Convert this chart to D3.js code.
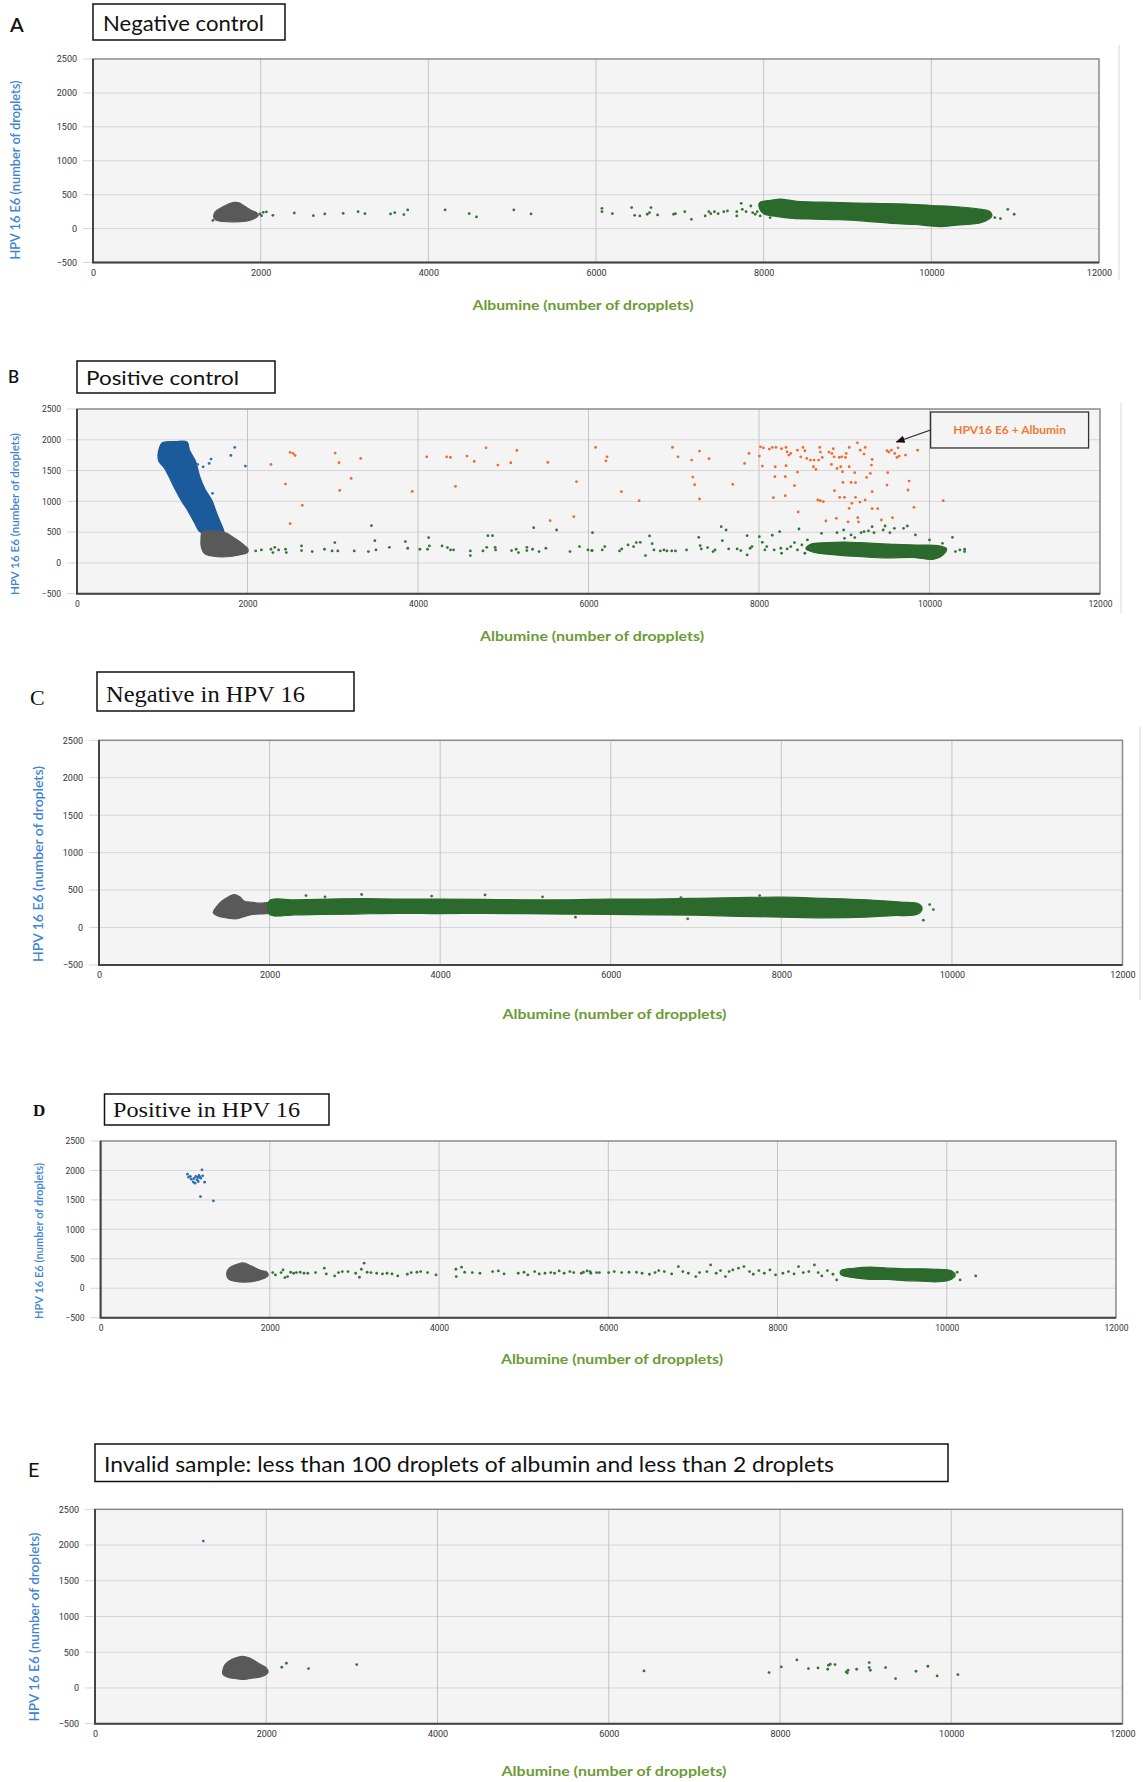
<!DOCTYPE html>
<html>
<head>
<meta charset="utf-8">
<script src="https://cdn.jsdelivr.net/npm/d3@7"></script>
<style>
  body { margin: 0; background: #fff; }
  svg { display: block; }
</style>
</head>
<body>
<div id="chart"></div>
<script>
// axis ticks shared by every panel
const xTicks = [0, 2000, 4000, 6000, 8000, 10000, 12000];
const yTicks = [2500, 2000, 1500, 1000, 500, 0, -500];

// ---- A: negative control ----
const aGrayBlob = [[1440,170],[1460,250],[1520,300],[1580,340],[1640,372],[1690,385],[1740,380],[1790,345],[1840,305],[1890,265],[1950,235],[1965,185],[1900,135],[1800,105],[1650,100],[1520,108],[1460,130]];
const aGrayDots = [[1960,200],[1990,215],[2010,190],[1430,120]];
const aGreenBlob = [[7950,380],[8100,420],[8200,435],[8400,400],[8700,390],[9000,380],[9300,372],[9700,362],[10000,340],[10300,322],[10550,290],[10700,250],[10720,180],[10600,90],[10300,50],[10100,30],[9800,60],[9500,80],[9200,110],[8900,130],[8600,140],[8350,150],[8150,180],[8000,220],[7950,300]];
const aGreenDots = [[2030,240],[2068,245],[2146,196],[2401,230],[2629,191],[2765,216],[2984,225],[3162,250],[3244,220],[3549,216],[3599,235],[3708,206],[3754,275],[4200,275],[4487,220],[4574,172],[5020,275],[5225,216],
  [6071,299],[6071,250],[6195,220],[6425,309],[6461,196],[6523,186],[6611,211],[6638,235],[6656,309],[6735,201],[6926,211],[6948,220],[7059,250],[7138,137],[7302,186],[7346,250],[7369,220],[7413,250],[7457,220],[7524,250],[7568,260],[7679,186],[7679,250],[7732,373],[7745,284],[7790,250],[7847,333],[7869,235],[7900,211],[7923,250],[7958,186],[7989,358],[8033,299],[8077,162],[10757,162],[10824,147],[10912,284],[10988,211]];

// ---- B: positive control ----
const bBlueBlob = [[1000,1950],[1150,1970],[1290,1965],[1320,1830],[1390,1650],[1440,1400],[1500,1200],[1580,1020],[1640,800],[1700,600],[1720,500],[1450,500],[1380,650],[1300,850],[1230,1000],[1150,1200],[1080,1400],[1020,1550],[960,1650],[950,1750],[970,1880]];
const bBlueDots = [[1550,1616],[1572,1686],[1590,1130],[1805,1746],[1850,1876],[1975,1573],[1415,1600],[1480,1560]];
const bGrayBlob = [[1470,500],[1720,500],[1850,400],[1950,300],[2005,230],[2000,170],[1900,130],[1750,100],[1600,110],[1500,150],[1460,250],[1455,400]];
const bGreenBlob = [[8600,300],[8800,330],[9000,340],[9300,320],[9600,300],[9900,290],[10100,280],[10200,230],[10150,120],[10050,60],[9800,90],[9500,80],[9200,100],[8900,130],[8650,170],[8550,230]];
const bGreenDots = [[2096,195],[2163,211],[2275,222],[2320,254],[2365,211],[2446,222],[2455,168],[2298,168],[2634,276],[2634,200],[2759,184],[2903,222],[2992,195],[3024,330],[3059,195],[3252,195],[3418,184],[3454,605],[3494,362],[3507,211],[3664,254],[3852,346],[3879,238],[4022,222],[4112,222],[4125,411],[4134,276],[4282,276],[4345,249],[4381,211],[4417,211],[4614,195],[4614,119],[4762,195],[4806,254],[4820,443],[4874,443],[4905,254],[4910,211],[5097,200],[5151,222],[5178,168],[5277,254],[5277,200],[5344,222],[5420,184],[5500,238],[5357,573],[5626,535],[5783,184],[5894,265],[5993,211],[6038,200],[6047,492],
  [6043,200],[6161,211],[6191,265],[6364,195],[6390,227],[6464,292],[6529,265],[6560,330],[6607,335],[6668,119],[6716,438],[6746,313],[6768,211],[6842,195],[6885,211],[6920,195],[6976,195],[7020,195],[7150,211],[7293,416],[7310,281],[7323,227],[7397,249],[7462,184],[7484,211],[7557,589],[7570,362],[7614,535],[7644,227],[7744,227],[7787,200],[7861,443],[7861,130],[7896,238],[7918,265],[8004,427],[8039,335],[8069,211],[8091,265],[8156,449],[8178,211],[8243,508],[8256,238],[8265,157],[8330,227],[8373,265],[8416,330],[8451,211],[8469,551],[8503,292],[8538,157],[8568,373],[8612,238],[8655,265],[8733,481],[8915,492],[8993,535],[9002,400],[9080,454],[9123,411],[9197,492],[9232,508],[9284,519],[9327,589],[9349,492],[9457,535],[9479,600],[9536,492],[9588,562],[9696,562],[9740,600],[9835,454],[10000,373],[10152,319],[10269,416],[10304,184],[10356,211],[10412,184],[10412,222]];
const bOrangeDots = [[2275,1600],[2446,1281],[2500,1795],[2535,1778],[2558,1746],[2500,638],[2643,935],[3028,1784],[3073,1627],[3082,1178],[3216,1373],[3328,1697],[3933,1162],[4103,1724],[4336,1724],[4381,1714],[4439,1243],[4574,1735],[4659,1649],[4798,1870],[4937,1589],[5089,1627],[5160,1827],[5523,1632],[5550,686],[5859,1319],[5828,751],[6083,1876],
  [6217,1724],[6204,1659],[6386,1157],[6594,1011],[6985,1876],[7050,1724],[7210,1670],[7302,1816],[7414,1692],[7223,1395],[7245,1270],[7302,1038],[7692,1276],[7831,1616],[7883,1778],[8004,1735],[8017,1886],[8052,1870],[8039,1573],[8121,1849],[8156,1876],[8199,1876],[8191,1562],[8264,1854],[8317,1876],[8330,1805],[8351,1751],[8373,1778],[8317,1578],[8308,1400],[8187,1400],[8169,1059],[8308,1092],[8416,1254],[8451,1476],[8460,827],[8451,1832],[8516,1876],[8538,1822],[8490,1724],[8560,1697],[8603,1670],[8646,1670],[8638,1562],[8668,1519],[8712,1876],[8720,1800],[8742,1714],[8698,1670],[8690,1022],[8720,1011],[8755,995],[8785,681],[8820,1800],[8855,1778],[8872,1854],[8881,1724],[8850,1600],[8915,1535],[8885,1173],[8907,724],[8941,1714],[8971,1724],[9015,1714],[9023,1778],[9058,1876],[8959,1562],[8980,1481],[9058,1562],[8985,1308],[9002,1065],[8946,1065],[9058,887],[9089,968],[9123,1465],[9080,1308],[9132,1303],[9132,1065],[9154,1951],[9188,1832],[9232,1768],[9245,1876],[9184,989],[9245,1022],[9158,735],[9167,665],[9045,665],[9327,1681],[9319,1589],[9306,1454],[9262,1389],[9327,1157],[9327,881],[9392,881],[9436,697],[9501,1822],[9523,1800],[9553,1832],[9592,1778],[9618,1714],[9631,1870],[9644,1735],[9718,1751],[9510,1465],[9501,1265],[9566,735],[9761,1330],[9748,1184],[9818,903],[9861,1832],[10161,1011]];
const bNote = { text: "HPV16 E6 + Albumin", x0: 10013, x1: 11866, yTop: 2451, yBottom: 1867, arrowFrom: [10013, 2159], arrowTo: [9612, 1964] };

// ---- C: negative in HPV 16 ----
const cGrayBlob = [[1340,200],[1380,280],[1450,360],[1520,410],[1580,440],[1650,410],[1700,355],[1800,335],[1900,325],[2000,335],[2040,300],[2040,200],[1950,185],[1800,175],[1700,145],[1620,118],[1500,128],[1400,150]];
const cGreenBlob = [[2000,360],[2300,370],[2700,380],[3100,385],[3500,380],[4000,380],[4500,375],[5000,370],[5500,370],[6000,380],[6500,380],[7000,390],[7500,400],[8000,405],[8500,390],[9000,370],[9400,340],[9600,320],[9650,260],[9600,180],[9300,160],[9000,140],[8500,130],[8000,140],[7500,150],[7000,165],[6500,170],[6000,175],[5500,180],[5000,185],[4500,190],[4000,185],[3500,190],[3000,180],[2600,175],[2300,170],[2000,175]];
const cGreenDots = [[2427,427],[3079,441],[4526,436],[5586,138],[6823,400],[7746,427],[6902,116],[9739,307],[9782,240],[9665,98],[9621,209],[2650,410],[3900,420],[5200,410]];

// ---- D: positive in HPV 16 ----
const dBlueDots = [[1026,1937],[1040,1886],[1071,1852],[1094,1806],[1116,1784],[1139,1840],[1125,1897],[1162,1914],[1184,1869],[1198,2010],[1207,1908],[1229,1801],[1153,1812],[1103,1863],[1180,1557],[1333,1484],[1150,1880],[1172,1890],[1060,1900]];
const dGrayBlob = [[1490,250],[1520,340],[1600,400],[1680,430],[1750,400],[1820,350],[1900,300],[1960,280],[1980,220],[1920,160],[1820,120],[1700,105],[1600,115],[1510,160]];
const dGreenBlob = [[8750,300],[8900,340],[9100,360],[9300,340],[9500,330],[9700,330],[9900,320],[10050,300],[10100,220],[10050,150],[9900,110],[9700,120],[9500,130],[9300,150],[9100,150],[8900,180],[8750,230]];
const dGreenDots = [[2034,266],[2066,226],[2133,266],[2156,311],[2178,181],[2210,198],[2246,272],[2282,255],[2314,266],[2359,272],[2404,255],[2449,255],[2540,266],[2644,340],[2667,243],[2766,210],[2811,266],[2856,283],[2924,283],[3014,255],[3059,187],[3082,323],[3114,425],[3150,272],[3195,266],[3263,255],[3331,243],[3385,255],[3444,243],[3512,210],[3625,238],[3670,266],[3738,272],[3783,283],[3864,266],[3964,226],[4199,323],[4203,198],[4266,357],[4303,272],[4393,266],[4483,255],[4633,283],[4701,294],[4768,243],[4936,255],[5004,272],[5049,226],[5130,283],[5184,243],[5252,255],[5320,266],[5365,255],[5419,294],[5478,255],[5546,283],[5591,266],[5681,255],[5749,294],[5794,255],[5862,266],
  [5706,272],[5785,283],[5895,266],[6004,266],[6070,283],[6158,266],[6245,272],[6333,272],[6399,255],[6486,238],[6552,266],[6596,300],[6662,283],[6749,243],[6828,368],[6881,283],[6946,255],[7034,198],[7078,266],[7165,283],[7209,396],[7275,255],[7327,300],[7384,198],[7428,283],[7472,311],[7538,340],[7603,368],[7669,283],[7713,238],[7779,300],[7844,255],[7910,311],[7976,226],[8063,255],[8129,283],[8195,243],[8248,368],[8304,266],[8370,283],[8436,396],[8480,266],[8523,210],[8589,300],[8655,238],[8699,142],[8765,272],[8830,311],[10079,226],[10123,272],[10158,142],[10342,210]];

// ---- E: invalid sample ----
const eBlueDots = [[1265,2056]];
const eGrayBlob = [[1490,230],[1520,330],[1600,400],[1700,440],[1780,430],[1850,390],[1930,330],[2000,280],[2020,220],[1950,160],[1850,140],[1750,120],[1650,130],[1550,150],[1495,190]];
const eGreenDots = [[2181,290],[2235,346],[2494,271],[3057,327],[6412,238],[7872,215],[8015,294],[8197,393],[8332,271],[8444,280],[8557,262],[8566,318],[8587,332],[8643,327],[8773,224],[8795,248],[8786,210],[8895,262],[9042,355],[9042,285],[9055,248],[9233,285],[9350,131],[9588,234],[9727,304],[9835,168],[10078,187]];

const colors = { gray: "#595959", green: "#2c692c", blue: "#1c5b9b", greenDot: "#347534", blueDot: "#2c6db3", orange: "#f26a2e" };

const sans = "Lato, 'Open Sans', sans-serif";
const serif = "'Liberation Serif', 'DejaVu Serif', serif";

// layout of each panel (pixels)
const panels = [
  { letter: "A", lx: 10, ly: 32, lsize: 20, lfont: sans, lweight: 600,
    title: "Negative control", box: [93, 4, 192, 36], tx: 103, ty: 31, tsize: 21, tfont: sans, tlen: 161,
    plot: [93, 59, 1099, 262.5], ylab: [15, 170, 179, 13], xlab: [583, 310, 221, 14], edge: [1119, 45, 280], tick: 9,
    blobs: [[aGrayBlob, colors.gray], [aGreenBlob, colors.green]],
    dots: [[aGrayDots, colors.gray], [aGreenDots, colors.greenDot]] },
  { letter: "B", lx: 8, ly: 383, lsize: 17, lfont: sans, lweight: 600,
    title: "Positive control", box: [77, 361, 198, 32], tx: 86, ty: 385, tsize: 20, tfont: sans, tlen: 153,
    plot: [77, 409, 1100, 593.7], ylab: [15, 514, 162, 11.5], xlab: [592, 641, 224, 13.5], edge: [1121, 403, 613], tick: 8.5,
    blobs: [[bBlueBlob, colors.blue], [bGrayBlob, colors.gray], [bGreenBlob, colors.green]],
    dots: [[bBlueDots, colors.blueDot], [bGreenDots, colors.greenDot], [bOrangeDots, colors.orange]], note: bNote },
  { letter: "C", lx: 30, ly: 705, lsize: 22, lfont: serif, lweight: 400,
    title: "Negative in HPV 16", box: [97, 672, 257, 39], tx: 106, ty: 702, tsize: 24, tfont: serif, tlen: 199,
    plot: [99, 740.3, 1122.5, 965], ylab: [38, 864, 196, 13.5], xlab: [614.5, 1019, 224, 14], edge: [1140, 727, 1000], tick: 9,
    blobs: [[cGrayBlob, colors.gray], [cGreenBlob, colors.green]],
    dots: [[cGreenDots, colors.greenDot]] },
  { letter: "D", lx: 33, ly: 1116, lsize: 17, lfont: serif, lweight: 700,
    title: "Positive in HPV 16", box: [104.5, 1094, 224.5, 31], tx: 113, ty: 1117, tsize: 21, tfont: serif, tlen: 187,
    plot: [100.6, 1141, 1116, 1317.7], ylab: [39, 1241, 156, 11], xlab: [612, 1364, 222, 13.5], edge: null, tick: 8.5,
    blobs: [[dGrayBlob, colors.gray], [dGreenBlob, colors.green]],
    dots: [[dBlueDots, colors.blueDot], [dGreenDots, colors.greenDot]] },
  { letter: "E", lx: 28, ly: 1477, lsize: 20, lfont: sans, lweight: 400,
    title: "Invalid sample: less than 100 droplets of albumin and less than 2 droplets", box: [95, 1444, 853, 37.5], tx: 104, ty: 1472, tsize: 21, tfont: sans, tlen: 730,
    plot: [95, 1509.3, 1122.5, 1723.7], ylab: [34, 1627, 189, 13], xlab: [614, 1776, 225, 14], edge: null, tick: 9,
    blobs: [[eGrayBlob, colors.gray]],
    dots: [[eBlueDots, colors.blueDot], [eGreenDots, colors.greenDot]] }
];

const svg = d3.select("#chart").append("svg")
  .attr("width", 1143)
  .attr("height", 1782);

svg.append("defs").append("marker")
  .attr("id", "arrow")
  .attr("viewBox", "0 0 10 10").attr("refX", 9).attr("refY", 5)
  .attr("markerWidth", 7).attr("markerHeight", 7).attr("orient", "auto")
  .append("path").attr("d", "M0,1L10,5L0,9Z").attr("fill", "#111");

panels.forEach(drawPanel);

function drawPanel(p) {
  const [left, top, right, bottom] = p.plot;
  const x = d3.scaleLinear().domain([0, 12000]).range([left, right]);
  const y = d3.scaleLinear().domain([-500, 2500]).range([bottom, top]);
  const g = svg.append("g");

  // panel letter + title box
  g.append("text")
    .attr("x", p.lx).attr("y", p.ly)
    .attr("font-family", p.lfont).attr("font-size", p.lsize).attr("font-weight", p.lweight)
    .attr("fill", "#111")
    .text(p.letter);
  g.append("rect")
    .attr("x", p.box[0]).attr("y", p.box[1]).attr("width", p.box[2]).attr("height", p.box[3])
    .attr("fill", "#fff").attr("stroke", "#111").attr("stroke-width", 1.5);
  g.append("text")
    .attr("x", p.tx).attr("y", p.ty)
    .attr("font-family", p.tfont).attr("font-size", p.tsize)
    .attr("textLength", p.tlen).attr("lengthAdjust", "spacingAndGlyphs")
    .attr("fill", "#111")
    .text(p.title);

  if (p.edge) {
    g.append("line")
      .attr("x1", p.edge[0]).attr("x2", p.edge[0]).attr("y1", p.edge[1]).attr("y2", p.edge[2])
      .attr("stroke", "#e4e4e4").attr("stroke-width", 1.5);
  }

  g.append("rect")
    .attr("x", left).attr("y", top).attr("width", right - left).attr("height", bottom - top)
    .attr("fill", "#f4f4f4");

  // grid
  g.append("g").selectAll("line")
    .data(yTicks.filter(d => d > -500 && d < 2500))
    .join("line")
      .attr("x1", left - 10).attr("x2", right)
      .attr("y1", d => y(d)).attr("y2", d => y(d))
      .attr("stroke", "#d6d6d6").attr("stroke-width", 1);
  g.append("g").selectAll("line")
    .data([2500, -500])
    .join("line")
      .attr("x1", left - 10).attr("x2", left)
      .attr("y1", d => y(d)).attr("y2", d => y(d))
      .attr("stroke", "#d6d6d6").attr("stroke-width", 1);
  g.append("g").selectAll("line")
    .data(xTicks.filter(d => d > 0 && d < 12000))
    .join("line")
      .attr("x1", d => x(d)).attr("x2", d => x(d))
      .attr("y1", top).attr("y2", bottom)
      .attr("stroke", "#c4c4c4").attr("stroke-width", 1);

  // frame
  g.append("rect")
    .attr("x", left).attr("y", top).attr("width", right - left).attr("height", bottom - top)
    .attr("fill", "none").attr("stroke", "#8a8a8a").attr("stroke-width", 1.5);
  g.append("path")
    .attr("d", `M${left},${top}V${bottom}H${right}`)
    .attr("fill", "none").attr("stroke", "#444").attr("stroke-width", 2);

  // tick labels via axes (no lines)
  const yAxis = g.append("g")
    .attr("transform", `translate(${left - 10},0)`)
    .call(d3.axisLeft(y).tickValues(yTicks).tickFormat(d3.format("d")).tickSize(0).tickPadding(6));
  const xAxis = g.append("g")
    .attr("transform", `translate(0,${bottom})`)
    .call(d3.axisBottom(x).tickValues(xTicks).tickFormat(d3.format("d")).tickSize(0).tickPadding(7));
  [yAxis, xAxis].forEach(a => {
    a.select(".domain").remove();
    a.selectAll("text")
      .attr("font-family", "Roboto, sans-serif")
      .attr("font-size", p.tick)
      .attr("fill", "#333");
  });

  // axis titles
  g.append("text")
    .attr("transform", `translate(${p.ylab[0] + p.ylab[3] * 0.35},${p.ylab[1]}) rotate(-90)`)
    .attr("text-anchor", "middle")
    .attr("font-family", sans).attr("font-size", p.ylab[3]).attr("font-weight", 600)
    .attr("textLength", p.ylab[2]).attr("lengthAdjust", "spacingAndGlyphs")
    .attr("fill", "#3d84d1")
    .text("HPV 16 E6 (number of droplets)");
  g.append("text")
    .attr("x", p.xlab[0]).attr("y", p.xlab[1])
    .attr("text-anchor", "middle")
    .attr("font-family", sans).attr("font-size", p.xlab[3]).attr("font-weight", 700)
    .attr("textLength", p.xlab[2]).attr("lengthAdjust", "spacingAndGlyphs")
    .attr("fill", "#6c9b36")
    .text("Albumine (number of dropplets)");

  // dense droplet clouds
  const area = d3.line()
    .x(d => x(d[0])).y(d => y(d[1]))
    .curve(d3.curveCatmullRomClosed.alpha(0.5));
  g.append("g").selectAll("path")
    .data(p.blobs)
    .join("path")
      .attr("d", d => area(d[0]))
      .attr("fill", d => d[1])
      .attr("stroke", d => d[1])
      .attr("stroke-width", 1.2)
      .attr("stroke-linejoin", "round");

  // single droplets
  p.dots.forEach(([pts, c]) => {
    g.append("g").selectAll("circle")
      .data(pts)
      .join("circle")
        .attr("cx", d => x(d[0]))
        .attr("cy", d => y(d[1]))
        .attr("r", 1.4)
        .attr("fill", c);
  });

  if (p.note) {
    const n = p.note;
    g.append("line")
      .attr("x1", x(n.arrowFrom[0])).attr("y1", y(n.arrowFrom[1]))
      .attr("x2", x(n.arrowTo[0])).attr("y2", y(n.arrowTo[1]))
      .attr("stroke", "#222").attr("stroke-width", 1.3)
      .attr("marker-end", "url(#arrow)");
    g.append("rect")
      .attr("x", x(n.x0)).attr("y", y(n.yTop))
      .attr("width", x(n.x1) - x(n.x0)).attr("height", y(n.yBottom) - y(n.yTop))
      .attr("fill", "#f4f4f4").attr("stroke", "#333").attr("stroke-width", 1.3);
    g.append("text")
      .attr("x", (x(n.x0) + x(n.x1)) / 2)
      .attr("y", (y(n.yTop) + y(n.yBottom)) / 2 + 4)
      .attr("text-anchor", "middle")
      .attr("font-family", sans).attr("font-size", 12).attr("font-weight", 700)
      .attr("fill", "#f07a35")
      .text(n.text);
  }
}
</script>
</body>
</html>
